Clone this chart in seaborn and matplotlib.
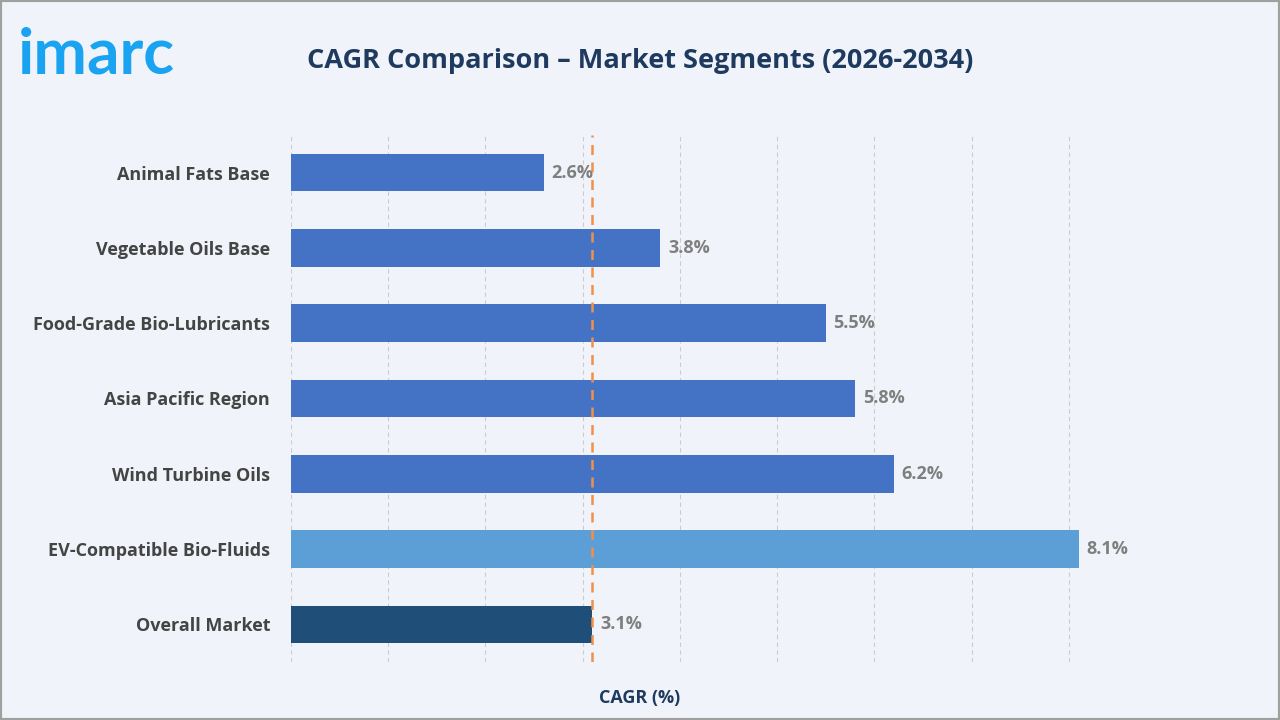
import matplotlib
matplotlib.use("Agg")
import matplotlib.pyplot as plt
import seaborn as sns
import pandas as pd
from matplotlib.patches import Rectangle

categories = ["Animal Fats Base", "Vegetable Oils Base", "Food-Grade Bio-Lubricants",
              "Asia Pacific Region", "Wind Turbine Oils", "EV-Compatible Bio-Fluids", "Overall Market"]
values = [2.6, 3.8, 5.5, 5.8, 6.2, 8.1, 3.1]
colors = ["#4472C4"] * 5 + ["#5B9FD6", "#1F4E79"]
overall = 3.1

sns.set_theme(style="white")
plt.rcParams['font.family'] = ['Open Sans', 'DejaVu Sans']
bg = "#F0F4FA"
fig = plt.figure(figsize=(12.8, 7.2), dpi=100, facecolor=bg)
ax = fig.add_axes([291/1280, 1-662/720, (1166-291)/1280, (662-135)/720])
ax.set_facecolor(bg)
df = pd.DataFrame({"cat": categories, "val": values})
sns.barplot(data=df, x="val", y="cat", hue="cat", palette=colors, legend=False,
            width=0.5, ax=ax, saturation=1, linewidth=0)
ax.set_xlim(0, 9)
ax.set_ylim(6.5, -0.5)
ax.set_xticks(range(0, 10))
ax.set_xticklabels([])
ax.tick_params(axis='x', length=0)
ax.tick_params(axis='y', length=0, pad=15)
ax.grid(axis='x', color="#CCCCCC", linestyle=(0, (4, 3)), linewidth=0.8)
ax.set_axisbelow(True)
for s in ax.spines.values():
    s.set_visible(False)
for lbl in ax.get_yticklabels():
    lbl.set_fontsize(13); lbl.set_fontweight('bold'); lbl.set_color("#444444")
ax.set_ylabel("")
ax.set_xlabel("")
fig.text(640/1280, 1-698/720, "CAGR (%)", ha='center', va='center', fontsize=13,
         fontweight='bold', color="#1F3A5F")
ax.axvline(overall, color="#F0904A", linestyle=(0, (4, 3)), linewidth=1.8, zorder=5)
for i, v in enumerate(values):
    ax.text(v + 0.08, i, f"{v}%", va='center', ha='left', fontsize=13,
            fontweight='bold', color="#7F7F7F", zorder=6)
fig.text(640/1280, 1-61/720, "CAGR Comparison – Market Segments (2026-2034)",
         ha='center', va='center', fontsize=19.5, fontweight='bold', color="#1F3A5F")
fig.text(18/1280, 1-55/720, "imarc", ha='left', va='center', fontsize=46,
         fontweight='bold', color="#1AA3F0", family=['Lato', 'DejaVu Sans'])
fig.patches.append(Rectangle((0, 0), 1, 1, transform=fig.transFigure, fill=False,
                             edgecolor="#A0A0A0", linewidth=3))
fig.savefig("out.png", dpi=100, facecolor=bg)
